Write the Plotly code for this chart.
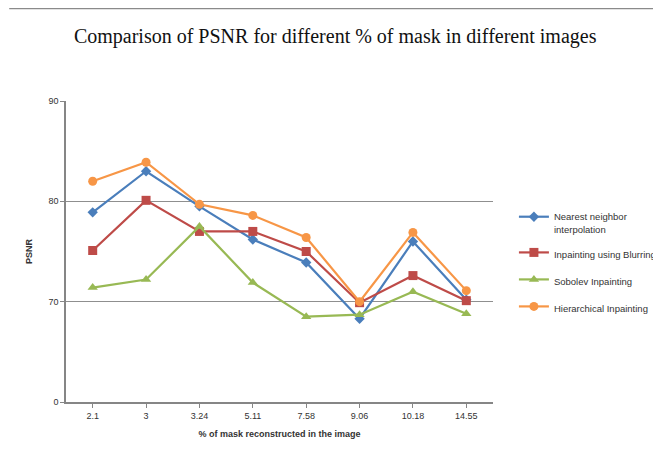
import plotly.graph_objects as go

categories = ["2.1", "3", "3.24", "5.11", "7.58", "9.06", "10.18", "14.55"]
nearest = [78.9, 83.0, 79.5, 76.2, 73.9, 68.3, 76.0, 70.2]
blurring = [75.1, 80.1, 77.0, 77.0, 75.0, 69.9, 72.6, 70.1]
sobolev = [71.4, 72.2, 77.5, 71.9, 68.5, 68.7, 71.0, 68.8]
hierarchical = [82.0, 83.9, 79.7, 78.6, 76.4, 70.0, 76.9, 71.1]
y_tickvals = [60, 70, 80, 90]
y_ticktext = ["0", "70", "80", "90"]
grid_vals = [70, 80]

series = [
    ("Nearest neighbor<br>interpolation", nearest, "#4A7EBB", "diamond", 8),
    ("Inpainting using Blurring", blurring, "#BE4B48", "square", 9),
    ("Sobolev Inpainting", sobolev, "#98B954", "triangle-up", 9),
    ("Hierarchical Inpainting", hierarchical, "#F79646", "circle", 9),
]

fig = go.Figure()
for name, vals, color, sym, size in series:
    fig.add_trace(go.Scatter(
        x=categories, y=vals, name=name, mode="lines+markers", legendgroup=name,
        line=dict(color=color, width=2.2),
        marker=dict(symbol=sym, size=size, color=color),
    ))

fig.update_layout(
    width=661, height=473,
    paper_bgcolor="white", plot_bgcolor="white",
    margin=dict(l=58, r=176, t=93, b=79, autoexpand=False),
    title=dict(text="Comparison of PSNR for different % of mask in different images",
               x=0.495, xanchor="center", y=0.94, yanchor="middle",
               font=dict(family="Liberation Serif", size=20, color="#111")),
    font=dict(family="Liberation Sans", size=9, color="#333"),
    showlegend=True,
    legend=dict(x=1.049, xanchor="left", y=0.46, yanchor="middle", valign="top",
                font=dict(size=9.5, color="#333"), tracegroupgap=8,
                itemwidth=30, bgcolor="rgba(0,0,0,0)"),
    xaxis=dict(type="category", showline=True, linecolor="#868686", linewidth=1.5,
               showgrid=False, ticks="outside", ticklen=4, tickcolor="#868686",
               tickfont=dict(size=9, color="#333"), automargin=False,
               title=dict(text="<b>% of mask reconstructed in the image</b>",
                          font=dict(size=9, color="#333"), standoff=11),
               range=[-0.5, 7.5]),
    yaxis=dict(range=[60, 90], tickvals=y_tickvals, ticktext=y_ticktext,
               showline=True, linecolor="#868686", linewidth=1.5, showgrid=False,
               zeroline=False, ticks="outside", ticklen=4, tickcolor="#868686",
               tickfont=dict(size=9, color="#333"), automargin=False,
               title=dict(text="<b>PSNR</b>", font=dict(size=9, color="#333"), standoff=14)),
    yaxis2=dict(range=[60, 90], overlaying="y", tickvals=grid_vals, showgrid=True,
                gridcolor="#8f8f8f", gridwidth=1.3, showticklabels=False,
                showline=False, zeroline=False, automargin=False),
    shapes=[dict(type="line", xref="paper", yref="paper",
                 x0=-0.133, x1=1.5, y0=1.307, y1=1.307,
                 line=dict(color="#8a8a8a", width=1.5))],
)
fig.add_trace(go.Scatter(x=[categories[0]], y=[None], yaxis="y2", showlegend=False,
                         hoverinfo="skip"))

fig.write_html("out.html")
